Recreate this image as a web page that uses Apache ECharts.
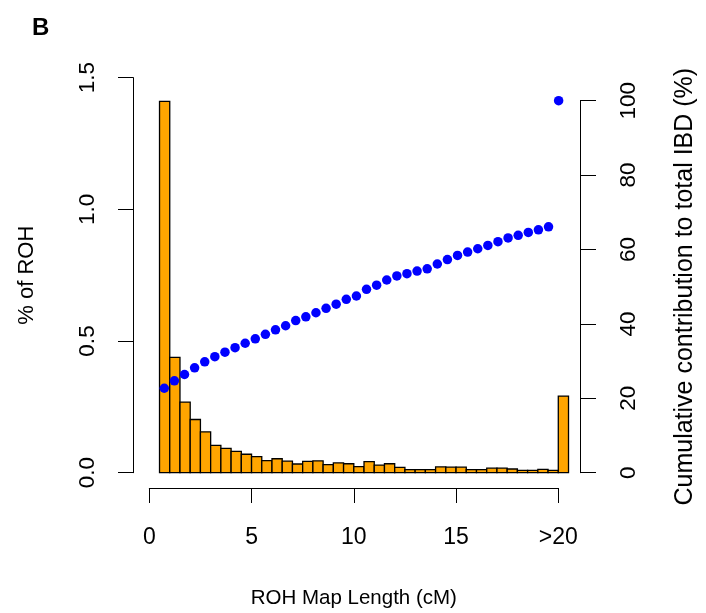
<!DOCTYPE html>
<html>
<head>
<meta charset="utf-8">
<script src="https://cdn.jsdelivr.net/npm/echarts@6/dist/echarts.min.js"></script>
<style>
html,body{margin:0;padding:0;background:#fff;}
#chart{width:706px;height:613px;}
</style>
</head>
<body>
<div id="chart"></div>
<script>
// Bin edges (cM); the last bin is ">20"
const binEdges = [0.5,1,1.5,2,2.5,3,3.5,4,4.5,5,5.5,6,6.5,7,7.5,8,8.5,9,9.5,10,10.5,11,11.5,12,12.5,13,13.5,14,14.5,15,15.5,16,16.5,17,17.5,18,18.5,19,19.5,20,20.5];
// % of ROH per bin
const pctROH = [1.41,0.438,0.268,0.202,0.155,0.104,0.092,0.081,0.070,0.061,0.046,0.053,0.044,0.033,0.043,0.045,0.031,0.037,0.034,0.023,0.042,0.029,0.034,0.020,0.012,0.012,0.012,0.022,0.021,0.021,0.012,0.012,0.017,0.017,0.014,0.009,0.009,0.013,0.009,0.291];
// Cumulative contribution to total IBD (%)
const cumIBD = [22.7,24.7,26.4,28.2,29.8,31.2,32.4,33.6,34.8,36.0,37.2,38.4,39.5,40.9,41.9,43.0,44.2,45.3,46.6,47.5,49.3,50.4,51.8,52.9,53.5,54.2,54.8,56.1,57.3,58.4,59.3,60.2,61.1,62.1,63.1,63.8,64.6,65.3,66.1,100];
// Tick values
const xTicks = [0,5,10,15,20];
const xTickLabels = ['0','5','10','15','>20'];
const leftTicks = [0,0.5,1.0,1.5];
const rightTicks = [0,20,40,60,80,100];

const FONT = 'Liberation Sans, Arial, Helvetica, sans-serif';

const barData = pctROH.map((v,i)=>[binEdges[i], binEdges[i+1], v]);
const dotData = cumIBD.map((v,i)=>[(binEdges[i]+binEdges[i+1])/2, v]);

const chart = echarts.init(document.getElementById('chart'), null, {renderer:'canvas'});
const axisLineStyle = {color:'#000', width:1};
const option = {
  backgroundColor:'#fff',
  animation:false,
  title:{text:'B', left:27, top:11, textStyle:{fontFamily:FONT, fontWeight:'bold', fontSize:24, color:'#000'}},
  grid:[
    {left:133, right:121, top:77.6, bottom:140.3},
    {left:133, right:121, top:100.7, bottom:140.3},
    {left:149.3, right:147.7, top:470, bottom:125}
  ],
  xAxis:[
    {gridIndex:0, type:'value', min:-0.797, max:21.306, show:false},
    {gridIndex:1, type:'value', min:-0.797, max:21.306, show:false},
    {gridIndex:2, type:'value', min:xTicks[0], max:xTicks[xTicks.length-1], interval:5,
     axisLine:{show:true, onZero:false, lineStyle:axisLineStyle},
     axisTick:{show:true, length:15, inside:false, lineStyle:axisLineStyle},
     splitLine:{show:false},
     axisLabel:{margin:38, color:'#000', fontFamily:FONT, fontSize:23,
       formatter:(v)=>{const k=xTicks.indexOf(v); return k>=0?xTickLabels[k]:'';}},
     name:'ROH Map Length (cM)', nameLocation:'middle', nameGap:100,
     nameTextStyle:{color:'#000', fontFamily:FONT, fontSize:20.5}}
  ],
  yAxis:[
    {gridIndex:0, type:'value', position:'left', min:leftTicks[0], max:leftTicks[leftTicks.length-1], interval:0.5,
     axisLine:{show:true, onZero:false, lineStyle:axisLineStyle},
     axisTick:{show:true, length:15, inside:false, lineStyle:axisLineStyle},
     splitLine:{show:false},
     axisLabel:{rotate:90, margin:34, color:'#000', fontFamily:FONT, fontSize:22.5, formatter:(v)=>v.toFixed(1)},
     name:'% of ROH', nameLocation:'middle', nameGap:95, nameRotate:90,
     nameTextStyle:{color:'#000', fontFamily:FONT, fontSize:22}},
    {gridIndex:1, type:'value', position:'right', min:rightTicks[0], max:rightTicks[rightTicks.length-1], interval:20,
     axisLine:{show:true, onZero:false, lineStyle:axisLineStyle},
     axisTick:{show:true, length:16, inside:false, lineStyle:axisLineStyle},
     splitLine:{show:false},
     axisLabel:{rotate:90, margin:37, color:'#000', fontFamily:FONT, fontSize:22.5},
     name:'Cumulative contribution to total IBD (%)', nameLocation:'middle', nameGap:93, nameRotate:90,
     nameTextStyle:{color:'#000', fontFamily:FONT, fontSize:25}},
    {gridIndex:2, type:'value', show:false, min:0, max:1}
  ],
  series:[
    {type:'custom', xAxisIndex:0, yAxisIndex:0, data:barData, clip:false,
     renderItem:(params, api)=>{
       const p0 = api.coord([api.value(0), api.value(2)]);
       const p1 = api.coord([api.value(1), 0]);
       return {type:'rect', shape:{x:p0[0], y:p0[1], width:p1[0]-p0[0], height:p1[1]-p0[1]},
               style:{fill:'#FFA500', stroke:'#000', lineWidth:1.3}};
     }},
    {type:'scatter', xAxisIndex:1, yAxisIndex:1, data:dotData, symbol:'circle', symbolSize:9.5,
     itemStyle:{color:'#0000FF', opacity:1}, clip:false}
  ]
};
chart.setOption(option);
</script>
</body>
</html>
